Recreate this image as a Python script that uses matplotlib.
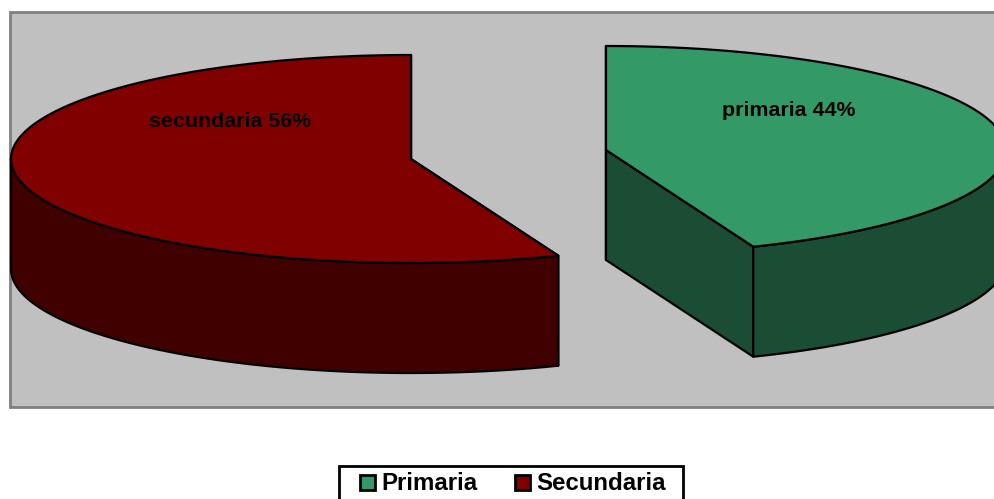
#!/usr/bin/env python3

import numpy as np
import matplotlib
matplotlib.use("Agg")
import matplotlib.pyplot as plt
from matplotlib.patches import Polygon, Rectangle

labels = ["primaria 44%", "secundaria 56%"]
legend_names = ["Primaria", "Secundaria"]
shares = [44, 56]

W, H = 995, 499
RX, RY, DEPTH = 400, 104, 110
top_cols = ["#339966", "#800000"]
side_cols = ["#1b4d35", "#400000"]
centers = [(606, 150), (411, 159)]
lab_pos = [(789, 110), (230, 121)]

plt.rcParams['font.family'] = ['Liberation Sans', 'DejaVu Sans']

fig = plt.figure(figsize=(W / 100, H / 100), dpi=100)
ax = fig.add_axes([0, 0, 1, 1])
ax.set_xlim(0, W)
ax.set_ylim(H, 0)
ax.axis("off")

# plot area
ax.add_patch(Rectangle((10, 12), 1000, 395, fc="#c0c0c0", ec="#808080", lw=2, zorder=0))


def arc(cx, cy, a0, a1):
    # angles clockwise from 12 o'clock, in degrees
    t = np.radians(np.linspace(a0, a1, 300))
    return np.column_stack([cx + RX * np.sin(t), cy - RY * np.cos(t)])


def draw_slice(cx, cy, a0, a1, top, side):
    edge = dict(ec="black", lw=1.6, joinstyle="round")
    # cut walls first, the outer wall and the top cover what is not seen
    c = np.array([cx, cy])
    for a in (a0, a1):
        p = arc(cx, cy, a, a)[0]
        ax.add_patch(Polygon([c, p, p + [0, DEPTH], c + [0, DEPTH]], fc=side, **edge))
    # outer wall, only the front half of the ellipse (90..270 deg) is seen
    v0, v1 = max(a0, 90), min(a1, 270)
    if v1 > v0:
        rim = arc(cx, cy, v0, v1)
        ax.add_patch(Polygon(np.vstack([rim, (rim + [0, DEPTH])[::-1]]), fc=side, **edge))
    ax.add_patch(Polygon(np.vstack([c, arc(cx, cy, a0, a1)]), fc=top, **edge))


start = 0
for i in range(len(shares)):
    end = start + shares[i] * 3.6
    draw_slice(centers[i][0], centers[i][1], start, end, top_cols[i], side_cols[i])
    ax.text(lab_pos[i][0], lab_pos[i][1], labels[i], ha="center", va="center",
            fontsize=15.4, fontweight="bold", color="black")
    start = end

# legend box
ax.add_patch(Rectangle((339, 466), 344, 40, fc="white", ec="black", lw=2, zorder=3))
key_x = [367, 522.5]
for i in range(2):
    ax.add_patch(Rectangle((key_x[i] - 7.5, 475), 15, 15, fc=top_cols[i], ec="black", lw=2, zorder=4))
    ax.text(key_x[i] + 14, 483.5, legend_names[i], ha="left", va="center",
            fontsize=17.3, fontweight="bold", zorder=4)

plt.savefig("out.png", dpi=100)
